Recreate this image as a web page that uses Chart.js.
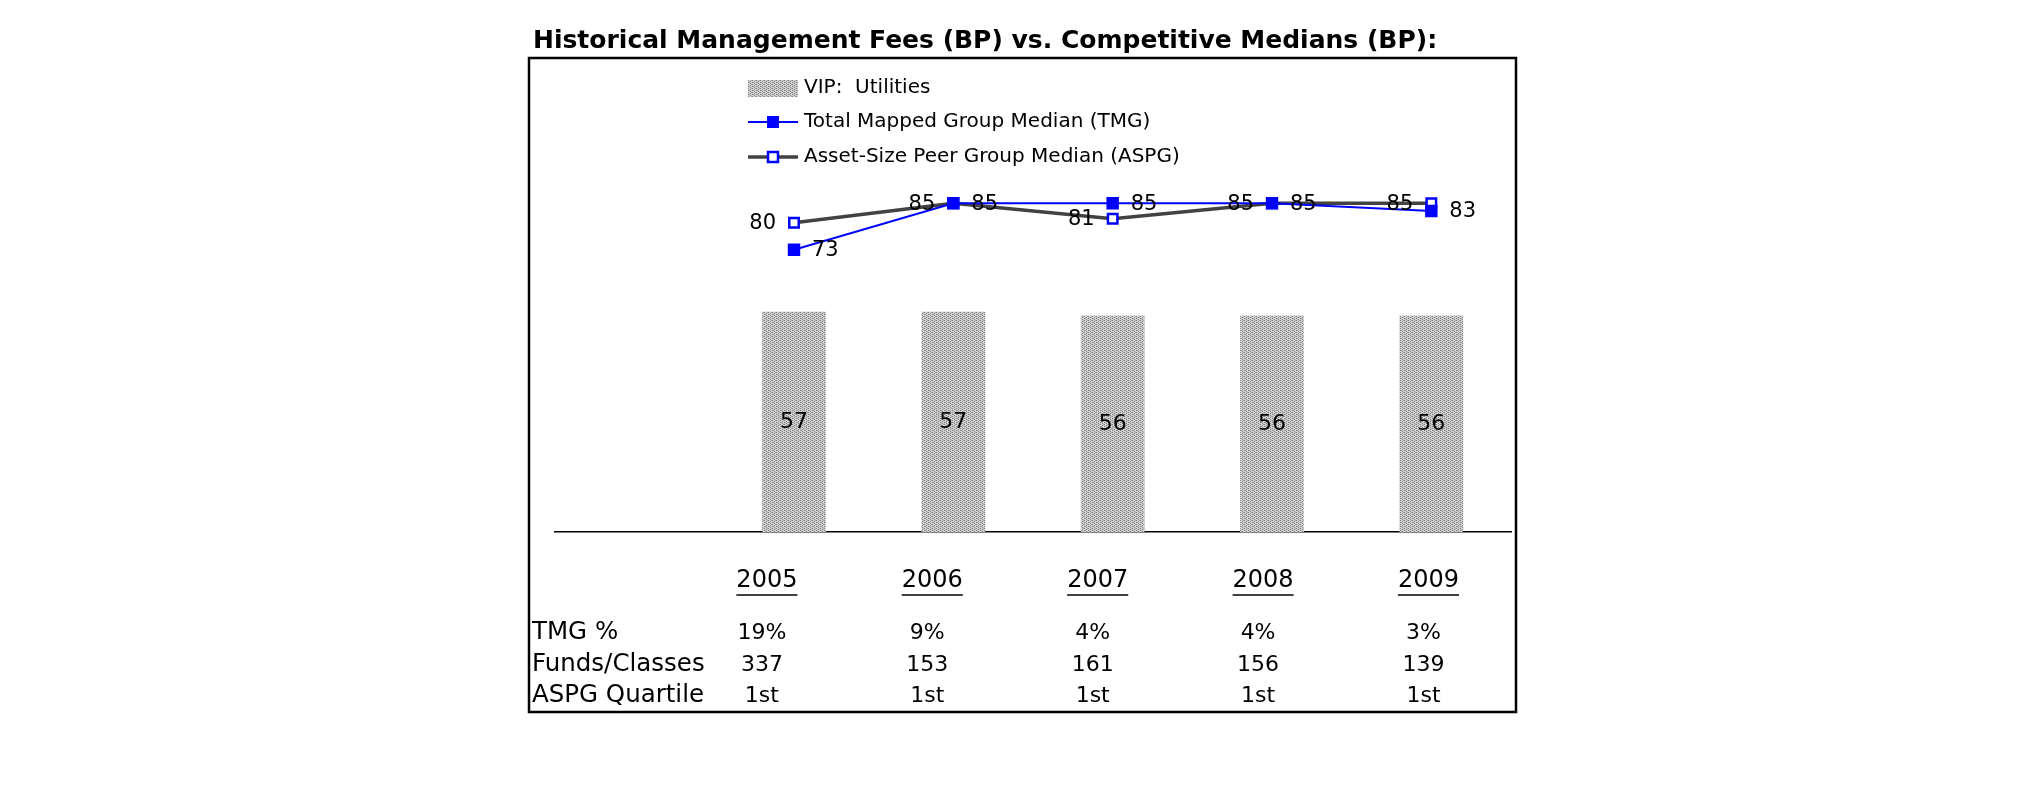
<!DOCTYPE html>
<html>
<head>
<meta charset="utf-8">
<script src="https://cdn.jsdelivr.net/npm/chart.js@4.4.1/dist/chart.umd.min.js"></script>
<style>
  html, body { margin: 0; padding: 0; background: #fff; }
  canvas { display: block; }
</style>
</head>
<body>
<canvas id="feeChart" width="2025" height="806"></canvas>
<script>
var years = ['2005', '2006', '2007', '2008', '2009'];
var vipFees = [57, 57, 56, 56, 56];
var tmgMedian = [73, 85, 85, 85, 83];
var aspgMedian = [80, 85, 81, 85, 85];
var tmgPct = ['19%', '9%', '4%', '4%', '3%'];
var fundsClasses = ['337', '153', '161', '156', '139'];
var aspgQuartile = ['1st', '1st', '1st', '1st', '1st'];
var rowNames = ['TMG %', 'Funds/Classes', 'ASPG Quartile'];

Chart.defaults.font.family = '"DejaVu Sans", Verdana, sans-serif';
Chart.defaults.color = '#000';

function toPoints(arr) {
  return arr.map(function (v, i) { return { x: i, y: v }; });
}

// the table grid below the plot is a bit wider than the bar spacing
function tableCol(i) {
  return -0.17 + 1.038 * i;
}

// stippled grey fill like the old excel pattern
var tile = document.createElement('canvas');
tile.width = 4; tile.height = 4;
var tg = tile.getContext('2d');
tg.fillStyle = '#d2d2d2'; tg.fillRect(0, 0, 4, 4);
tg.fillStyle = '#808080';
tg.fillRect(0, 0, 1, 1); tg.fillRect(2, 1, 1, 1); tg.fillRect(0, 2, 1, 1); tg.fillRect(2, 3, 1, 1);
tg.fillStyle = '#a8a8a8';
tg.fillRect(1, 2, 1, 1); tg.fillRect(3, 0, 1, 1);

var ctx = document.getElementById('feeChart').getContext('2d');
var barFill = ctx.createPattern(tile, 'repeat');

var valueLabels = {
  id: 'valueLabels',
  afterDatasetsDraw: function (chart) {
    var c = chart.ctx;
    c.save();
    c.fillStyle = '#000';
    c.textBaseline = 'middle';
    chart.data.datasets.forEach(function (ds, di) {
      var meta = chart.getDatasetMeta(di);
      meta.data.forEach(function (el, i) {
        var v = ds.data[i].y;
        if (ds.type === 'bar') {
          c.font = '22px "DejaVu Sans"';
          c.textAlign = 'center';
          c.fillText(v, el.x, (el.y + el.base) / 2);
        } else if (ds.labelSide === 'right') {
          c.font = '21px "DejaVu Sans"';
          c.textAlign = 'left';
          c.fillText(v, el.x + 18, el.y + 1);
        } else {
          c.font = '21px "DejaVu Sans"';
          c.textAlign = 'right';
          c.fillText(v, el.x - 18, el.y + 1);
        }
      });
    });
    c.restore();
  }
};

var panel = {
  id: 'panel',
  beforeDraw: function (chart) {
    var c = chart.ctx;
    c.save();
    c.fillStyle = '#fff';
    c.fillRect(0, 0, chart.width, chart.height);
    c.restore();
  },
  afterDraw: function (chart) {
    var c = chart.ctx;
    var xs = chart.scales.x;
    var ds = chart.data.datasets;
    c.save();

    // outer frame
    c.strokeStyle = '#000';
    c.lineWidth = 2.5;
    c.strokeRect(529, 58, 987, 654);

    // legend, one entry per line
    var lx = 748, ly = [88, 122, 157];
    c.textBaseline = 'middle';
    ds.forEach(function (d, k) {
      var y = ly[k];
      if (d.type === 'line') {
        c.strokeStyle = d.borderColor;
        c.lineWidth = d.borderWidth;
        c.beginPath(); c.moveTo(lx, y); c.lineTo(lx + 50, y); c.stroke();
        c.fillStyle = d.pointBackgroundColor;
        c.fillRect(lx + 19, y - 6, 12, 12);
        if (d.pointBorderWidth) {
          c.strokeStyle = d.pointBorderColor;
          c.lineWidth = d.pointBorderWidth;
          c.strokeRect(lx + 20, y - 5, 10, 10);
        }
      } else {
        c.fillStyle = d.backgroundColor;
        c.fillRect(lx, y - 8, 50, 17);
      }
      c.fillStyle = '#000';
      c.font = '20px "DejaVu Sans"';
      c.textAlign = 'left';
      c.fillText(d.label, lx + 56, y);
    });

    // underline the year labels
    c.font = '24px "DejaVu Sans"';
    c.strokeStyle = '#000';
    c.lineWidth = 1.5;
    years.forEach(function (yr, i) {
      var cx = xs.getPixelForValue(tableCol(i));
      var w = c.measureText(yr).width;
      c.beginPath(); c.moveTo(cx - w / 2, 595); c.lineTo(cx + w / 2, 595); c.stroke();
    });

    // data table under the axis
    var rows = [tmgPct, fundsClasses, aspgQuartile];
    var rowY = [633, 665, 696];
    c.fillStyle = '#000';
    rowNames.forEach(function (name, r) {
      c.font = '24.5px "DejaVu Sans"';
      c.textAlign = 'left';
      c.fillText(name, 532, rowY[r]);
      c.font = '22px "DejaVu Sans"';
      c.textAlign = 'center';
      rows[r].forEach(function (v, i) {
        c.fillText(v, xs.getPixelForValue(tableCol(i)) - 5, rowY[r]);
      });
    });
    c.restore();
  }
};

new Chart(ctx, {
  type: 'bar',
  data: {
    datasets: [{
      type: 'bar',
      label: 'VIP:  Utilities',
      data: toPoints(vipFees),
      backgroundColor: barFill,
      borderWidth: 0,
      barPercentage: 0.4,
      categoryPercentage: 1,
      order: 2
    }, {
      type: 'line',
      label: 'Total Mapped Group Median (TMG)',
      data: toPoints(tmgMedian),
      labelSide: 'right',
      borderColor: '#0000ff',
      borderWidth: 2,
      pointStyle: 'rect',
      pointRadius: 8.8,
      pointBackgroundColor: '#0000ff',
      pointBorderColor: '#0000ff',
      pointBorderWidth: 0,
      tension: 0,
      order: 0
    }, {
      type: 'line',
      label: 'Asset-Size Peer Group Median (ASPG)',
      data: toPoints(aspgMedian),
      labelSide: 'left',
      borderColor: '#424242',
      borderWidth: 3.5,
      pointStyle: 'rect',
      pointRadius: 6.7,
      pointBackgroundColor: '#ffffff',
      pointBorderColor: '#0000ff',
      pointBorderWidth: 2.5,
      tension: 0,
      order: 1
    }]
  },
  options: {
    responsive: false,
    animation: false,
    layout: { padding: { left: 533, right: 514, top: 26, bottom: 177 } },
    plugins: {
      legend: { display: false },
      tooltip: { enabled: false },
      title: {
        display: true,
        text: 'Historical Management Fees (BP) vs. Competitive Medians (BP):',
        align: 'start',
        color: '#000',
        font: { size: 25, weight: 'bold' },
        padding: { top: 0, bottom: 8 }
      }
    },
    scales: {
      x: {
        type: 'linear',
        min: -1.5,
        max: 4.5,
        offset: false,
        z: 1,
        afterBuildTicks: function (s) {
          s.ticks = years.map(function (y, i) { return { value: tableCol(i) }; });
        },
        ticks: {
          callback: function (v, idx) { return years[idx]; },
          font: { size: 24 },
          color: '#000',
          padding: 34,
          maxRotation: 0,
          autoSkip: false
        },
        grid: { display: false, drawTicks: false, offset: false },
        border: { display: true, color: '#000', width: 1.5 }
      },
      y: {
        min: 0,
        max: 121,
        afterFit: function (s) { s.width = 22; },
        ticks: { display: false },
        grid: { display: false, drawTicks: false },
        border: { display: false }
      }
    }
  },
  plugins: [panel, valueLabels]
});
</script>
</body>
</html>
